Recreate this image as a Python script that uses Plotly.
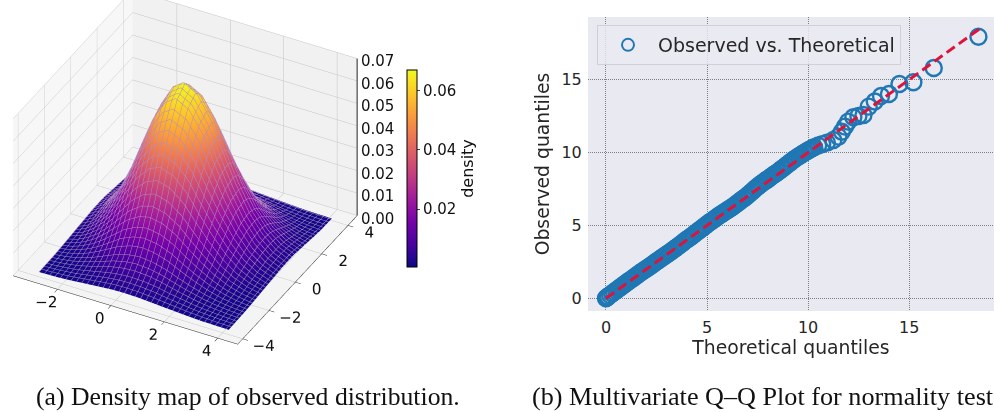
import numpy as np
import plotly.graph_objects as go

surf_x = [-3.0,-2.65,-2.3,-1.9,-1.5,-1.1,-0.7,-0.25,0.15,0.65,1.15,1.6,2.1,2.6,3.1,3.6,4.1]
surf_y = [-3.75,-3.2,-2.6,-2.05,-1.45,-0.9,-0.3,0.25,0.85,1.25,1.65,2.05,2.45,2.85,3.25,3.65,4.1]
density_milli = [
[.1,.2,.3,.6,1.0,1.4,1.8,2.2,2.3,2.2,1.8,1.4,1.0,.6,.3,.2,.1],
[.2,.4,.8,1.3,2.2,3.1,4.1,4.8,5.0,4.8,4.1,3.1,2.2,1.3,.8,.4,.2],
[.3,.8,1.5,2.7,4.3,6.2,8.1,9.5,10.1,9.5,8.1,6.2,4.3,2.7,1.5,.8,.3],
[.6,1.3,2.7,4.8,7.7,11.1,14.5,17.0,17.9,17.0,14.5,11.1,7.7,4.8,2.7,1.3,.6],
[1.0,2.2,4.3,7.7,12.4,17.9,23.3,27.3,28.8,27.3,23.3,17.9,12.4,7.7,4.3,2.2,1.0],
[1.4,3.1,6.2,11.1,17.9,25.9,33.8,39.6,41.7,39.6,33.8,25.9,17.9,11.1,6.2,3.1,1.4],
[1.8,4.1,8.1,14.5,23.3,33.8,44.0,51.5,54.3,51.5,44.0,33.8,23.3,14.5,8.1,4.1,1.8],
[2.2,4.8,9.5,17.0,27.3,39.6,51.5,60.3,63.6,60.3,51.5,39.6,27.3,17.0,9.5,4.8,2.2],
[2.3,5.0,10.1,17.9,28.8,41.7,54.3,63.6,67.0,63.6,54.3,41.7,28.8,17.9,10.1,5.0,2.3],
[2.2,4.8,9.5,17.0,27.3,39.6,51.5,60.3,63.6,60.3,51.5,39.6,27.3,17.0,9.5,4.8,2.2],
[1.8,4.1,8.1,14.5,23.3,33.8,44.0,51.5,54.3,51.5,44.0,33.8,23.3,14.5,8.1,4.1,1.8],
[1.4,3.1,6.2,11.1,17.9,25.9,33.8,39.6,41.7,39.6,33.8,25.9,17.9,11.1,6.2,3.1,1.4],
[1.0,2.2,4.3,7.7,12.4,17.9,23.3,27.3,28.8,27.3,23.3,17.9,12.4,7.7,4.3,2.2,1.0],
[.6,1.3,2.7,4.8,7.7,11.1,14.5,17.0,17.9,17.0,14.5,11.1,7.7,4.8,2.7,1.3,.6],
[.3,.8,1.5,2.7,4.3,6.2,8.1,9.5,10.1,9.5,8.1,6.2,4.3,2.7,1.5,.8,.3],
[.2,.4,.8,1.3,2.2,3.1,4.1,4.8,5.0,4.8,4.1,3.1,2.2,1.3,.8,.4,.2],
[.1,.2,.3,.6,1.0,1.4,1.8,2.2,2.3,2.2,1.8,1.4,1.0,.6,.3,.2,.1],
]

theoretical = [0,.05,.1,.2,.3,.4,.5,.6,.7,.8,.9,1,1.1,1.2,1.3,1.4,1.5,1.6,1.7,1.8,1.9,2,2.1,2.2,2.3,2.4,2.5,2.6,2.7,2.8,2.9,3,3.1,3.2,3.3,3.4,3.5,3.6,3.7,3.8,3.9,4,4.1,4.2,4.3,4.4,4.5,4.6,4.7,4.8,4.9,5,5.1,5.2,5.3,5.4,5.5,5.6,5.7,5.8,5.9,6,6.1,6.2,6.3,6.4,6.5,6.6,6.7,6.8,6.9,7,7.1,7.2,7.3,7.4,7.5,7.6,7.7,7.8,7.9,8,8.1,8.2,8.3,8.4,8.5,8.6,8.7,8.8,8.9,9,9.1,9.2,9.3,9.4,9.5,9.6,9.7,9.8,9.9,10,10.1,10.2,10.3,10.5,10.7,10.93,11.25,11.5,11.67,11.83,11.98,12.24,12.49,12.74,13,13.3,13.61,14,14.52,15.21,16.22,18.43]
observed = [0,.06,.12,.22,.33,.43,.53,.64,.74,.84,.95,1.05,1.15,1.25,1.35,1.45,1.55,1.65,1.75,1.85,1.94,2.03,2.13,2.22,2.32,2.42,2.52,2.62,2.72,2.82,2.91,3.01,3.1,3.2,3.3,3.4,3.5,3.6,3.71,3.82,3.93,4.03,4.13,4.23,4.33,4.44,4.55,4.65,4.76,4.86,4.97,5.08,5.18,5.28,5.38,5.48,5.58,5.68,5.77,5.86,5.95,6.04,6.13,6.22,6.31,6.42,6.53,6.63,6.74,6.84,6.94,7.05,7.18,7.3,7.42,7.55,7.66,7.77,7.88,7.98,8.07,8.16,8.27,8.38,8.48,8.57,8.66,8.77,8.88,8.98,9.09,9.2,9.31,9.42,9.52,9.62,9.71,9.8,9.89,9.98,10.06,10.14,10.22,10.3,10.37,10.48,10.58,10.68,10.86,11.09,11.43,11.78,12.12,12.42,12.51,12.58,13.15,13.5,13.88,14.02,14.7,14.82,15.8,17.95]
line_ends = [0,18.5]
x_ticks = [-2,0,2,4]
y_ticks = [-4,-2,0,2,4]
z_ticks = [0,.01,.02,.03,.04,.05,.06,.07]
z_labels = ["0.00","0.01","0.02","0.03","0.04","0.05","0.06","0.07"]
x_range = [-3.66,4.75]
y_range = [-4.38,4.7]
z_range = [0,0.07]

tick_font = dict(family="DejaVu Sans", size=15, color="#111")
fig = go.Figure()
mesh = "#b58ac0"
fig.add_trace(go.Surface(
    x=surf_x, y=surf_y, z=np.array(density_milli)/1000,
    colorscale="Plasma", cmin=0.0005, cmax=0.067,
    lighting=dict(ambient=1, diffuse=0, specular=0, roughness=1, fresnel=0),
    hoverinfo="skip",
    contours=dict(
        x=dict(show=True, start=-3.0, end=4.1, size=0.2, color=mesh, width=1),
        y=dict(show=True, start=-3.75, end=4.1, size=0.2, color=mesh, width=1),
    ),
    colorbar=dict(x=407/994, xanchor="left", xpad=0, y=1-70/412, yanchor="top", ypad=0, len=197, lenmode="pixels",
                  thickness=10, thicknessmode="pixels", tickvals=[0.02,0.04,0.06], ticktext=["0.02","0.04","0.06"],
                  ticks="outside", ticklen=3, tickfont=tick_font, outlinewidth=1, outlinecolor="#000",
                  title=dict(text="density", side="right", font=dict(family="DejaVu Sans", size=16, color="#111"))),
))
fig.add_trace(go.Scatter3d(x=[x_range[1]]*2, y=[y_range[1]]*2, z=z_range, mode="lines", showlegend=False,
    line=dict(color="#222", width=2), hoverinfo="skip"))
fig.add_trace(go.Scatter(x=theoretical, y=observed, mode="markers", name="Observed vs. Theoretical",
    marker=dict(symbol="circle-open", size=16, color="#1f77b4", line=dict(width=2.4, color="#1f77b4")),
    xaxis="x", yaxis="y"))
fig.add_trace(go.Scatter(x=line_ends, y=line_ends, mode="lines", showlegend=False,
    line=dict(color="#dc143c", width=3, dash="10px,5px"), xaxis="x", yaxis="y"))

axis3d = dict(showbackground=True, gridcolor="#c4c4c4", gridwidth=1, showspikes=False, zeroline=False,
              showline=True, linecolor="#222", linewidth=1, ticks="outside", ticklen=6, tickcolor="#222",
              tickfont=dict(tick_font, size=13.5), tickangle=0, title=dict(text=""))
qq_tick = dict(family="DejaVu Sans", size=16, color="#262626")
qq_title = dict(family="DejaVu Sans", size=18.8, color="#262626")
fig.update_layout(
    width=994, height=412, paper_bgcolor="#fff", plot_bgcolor="#e9e9f1",
    margin=dict(l=0, r=0, t=0, b=0), showlegend=True,
    scene=dict(
        domain=dict(x=[0, 0.39], y=[0.0, 1]),
        xaxis=dict(axis3d, range=x_range, tickvals=x_ticks, ticktext=["−2","0","2","4"], backgroundcolor="#f7f7f7"),
        yaxis=dict(axis3d, range=y_range, tickvals=y_ticks, ticktext=["−4","−2","0","2","4"], backgroundcolor="#f1f1f1"),
        zaxis=dict(axis3d, range=z_range, tickvals=z_ticks, showticklabels=False, ticks="", showline=False, backgroundcolor="#f4f4f4"),
        aspectmode="manual", aspectratio=dict(x=1.235,y=1.235,z=0.93),
        camera=dict(eye=dict(x=0.676,y=-1.18,z=0.72), center=dict(x=0.038,y=0.02,z=-0.23), projection=dict(type="orthographic")),
        annotations=[dict(x=x_range[1], y=y_range[1], z=v, text=t, showarrow=False, xanchor="left", xshift=2, yshift=-3,
                          font=tick_font) for v, t in zip(z_ticks, z_labels)],
    ),
    xaxis=dict(domain=[588/994,1], range=[-0.89,19.2], tickvals=[0,5,10,15], showgrid=True, griddash="1px,1px",
               gridcolor="#808080", gridwidth=1, zeroline=False, anchor="y", ticks="outside", ticklen=2, tickcolor="rgba(0,0,0,0)",
               tickfont=qq_tick, title=dict(text="Theoretical quantiles", standoff=0, font=qq_title)),
    yaxis=dict(domain=[1-311/412,1-17/412], range=[-0.87,19.3], tickvals=[0,5,10,15], showgrid=True, griddash="1px,1px",
               gridcolor="#808080", gridwidth=1, zeroline=False, anchor="x", ticks="outside", ticklen=2, tickcolor="rgba(0,0,0,0)",
               tickfont=qq_tick, title=dict(text="Observed quantiles", standoff=6, font=qq_title)),
    legend=dict(x=597/994, xanchor="left", y=1-25/412, yanchor="top", bgcolor="rgba(234,234,242,0.8)",
                bordercolor="#d0d0d6", borderwidth=1, font=dict(family="DejaVu Sans", size=19, color="#262626"),
                itemsizing="constant", itemwidth=50),
    annotations=[
        dict(text="(a) Density map of observed distribution.", x=248/994, xanchor="center", y=1-396/412, yanchor="middle", xref="paper", yref="paper",
             showarrow=False, font=dict(family="Liberation Serif", size=25.7, color="#111")),
        dict(text="(b) Multivariate Q–Q Plot for normality test", x=763/994, xanchor="center", y=1-396/412, yanchor="middle", xref="paper", yref="paper",
             showarrow=False, font=dict(family="Liberation Serif", size=26.2, color="#111")),
    ],
)
fig.write_html("out.html", post_script="document.body.style.margin='0';", config={"displayModeBar": False})
